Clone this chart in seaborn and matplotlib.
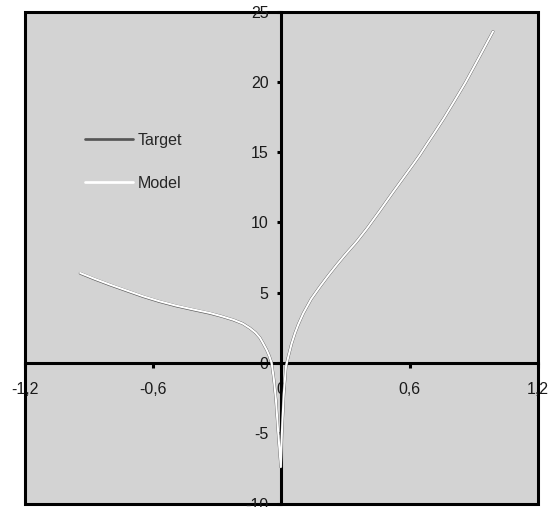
import matplotlib
matplotlib.use("Agg")
import matplotlib.pyplot as plt
from matplotlib.lines import Line2D
from matplotlib.ticker import FuncFormatter, FixedLocator
import seaborn as sns
import pandas as pd

# ---- data ----
x_vals = [-0.94, -0.87, -0.80, -0.72, -0.645, -0.57, -0.49, -0.41, -0.333,
          -0.28, -0.224, -0.18, -0.146, -0.12, -0.10, -0.085, -0.068, -0.056,
          -0.045, -0.035, -0.025, -0.014, -0.002, 0.003, 0.012, 0.022, 0.033,
          0.048, 0.064, 0.08, 0.103, 0.14, 0.181, 0.22, 0.259, 0.30, 0.352,
          0.40, 0.461, 0.52, 0.570, 0.62, 0.648, 0.68, 0.713, 0.76, 0.81,
          0.861, 0.92, 0.99]
target = [6.38, 5.95, 5.55, 5.12, 4.72, 4.37, 4.05, 3.78, 3.53,
          3.32, 3.06, 2.80, 2.47, 2.15, 1.80, 1.40, 0.92, 0.50,
          0.0, -1.1, -2.6, -5.0, -7.4, -5.0, -2.2, -0.26, 0.45,
          1.35, 2.11, 2.75, 3.53, 4.55, 5.43, 6.22, 6.97, 7.72, 8.62,
          9.55, 10.83, 12.1, 13.15, 14.2, 14.8, 15.55, 16.3, 17.4, 18.65,
          19.95, 21.6, 23.58]
model = [6.40, 5.97, 5.57, 5.14, 4.74, 4.39, 4.07, 3.80, 3.55,
         3.33, 3.07, 2.80, 2.47, 2.15, 1.80, 1.40, 0.92, 0.50,
         0.0, -1.1, -2.6, -5.0, -7.4, -5.0, -2.2, -0.26, 0.45,
         1.35, 2.11, 2.75, 3.53, 4.55, 5.43, 6.22, 6.97, 7.72, 8.62,
         9.55, 10.83, 12.1, 13.15, 14.2, 14.8, 15.55, 16.3, 17.4, 18.65,
         19.95, 21.6, 23.58]
x_ticks = [-1.2, -0.6, 0, 0.6, 1.2]
y_ticks = [-10, -5, 0, 5, 10, 15, 20, 25]
series_names = ["Target", "Model"]
series_colors = {"Target": "#555555", "Model": "#ffffff"}

df = pd.DataFrame({
    "x": x_vals + x_vals,
    "y": target + model,
    "series": ["Target"] * len(x_vals) + ["Model"] * len(x_vals),
})

sns.set_theme(style="white")
plt.rcParams["font.family"] = ["Liberation Sans", "DejaVu Sans"]

W, H = 548, 507
fig = plt.figure(figsize=(W / 100, H / 100), dpi=100)
L, R, T, B = 24.5, 538, 11.5, 503.5
ax = fig.add_axes([L / W, 1 - B / H, (R - L) / W, (B - T) / H])
ax.set_facecolor("#d3d3d3")
ax.patch.set_edgecolor("black")
ax.patch.set_linewidth(2.2)

widths = {"Target": 2.0, "Model": 1.5}
for name in series_names:
    sub = df[df["series"] == name]
    sns.lineplot(data=sub, x="x", y="y", color=series_colors[name],
                 linewidth=widths[name], sort=False, estimator=None,
                 ax=ax, zorder=4, legend=False)

ax.set_xlim(-1.2, 1.2)
ax.set_ylim(-10, 25)
ax.set_xlabel("")
ax.set_ylabel("")

for s in ["top", "right"]:
    ax.spines[s].set_visible(False)
for s in ["left", "bottom"]:
    ax.spines[s].set_position(("data", 0))
    ax.spines[s].set_linewidth(2.2)
    ax.spines[s].set_color("black")
    ax.spines[s].set_zorder(2)

fmt = FuncFormatter(lambda v, p: f"{v:g}".replace(".", ","))
ax.xaxis.set_major_locator(FixedLocator(x_ticks))
ax.yaxis.set_major_locator(FixedLocator(y_ticks))
ax.xaxis.set_major_formatter(fmt)
ax.yaxis.set_major_formatter(fmt)
ax.tick_params(axis="x", direction="out", length=3.6, width=2.2, pad=10,
               labelsize=11.5, colors="black", bottom=True)
ax.tick_params(axis="y", direction="out", length=3.2, width=2.2, pad=6,
               labelsize=11.5, colors="black", left=True)
for lab in ax.get_xticklabels() + ax.get_yticklabels():
    lab.set_color("#1a1a1a")

handles = [Line2D([], [], color=series_colors[n], linewidth=1.95) for n in series_names]
ax.legend(handles, series_names, loc="upper left",
          bbox_to_anchor=(85 / W, 1 - 133 / H), bbox_transform=fig.transFigure,
          frameon=False, handlelength=3.0, handletextpad=0.3, labelspacing=1.75,
          fontsize=11.5, borderpad=0, borderaxespad=0)

fig.savefig("out.png", dpi=100, facecolor="white")
